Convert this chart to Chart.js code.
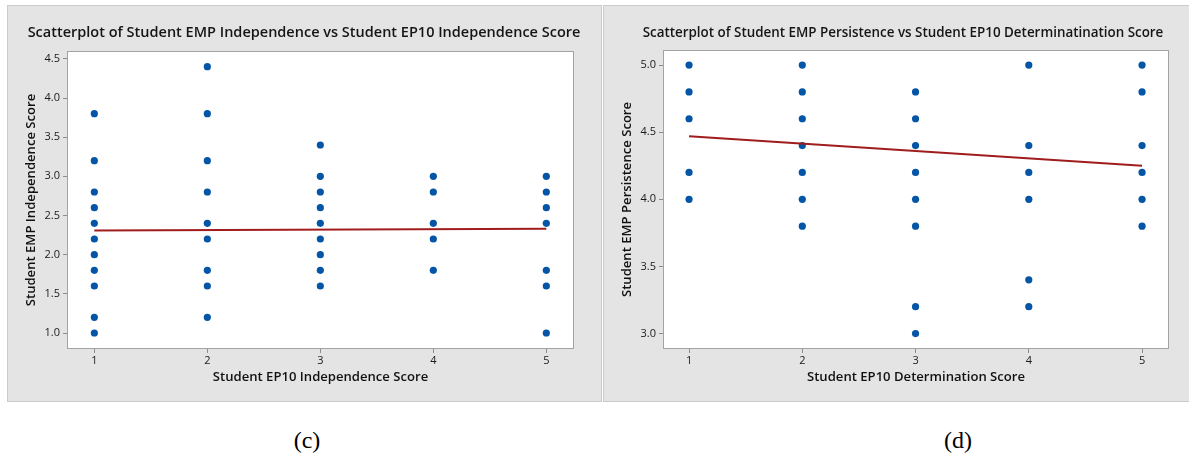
<!DOCTYPE html>
<html>
<head>
<meta charset="utf-8">
<script src="https://cdn.jsdelivr.net/npm/chart.js@4.4.1/dist/chart.umd.min.js"></script>
<style>
  html, body { margin:0; padding:0; background:#fff; width:1189px; height:461px; overflow:hidden; }
  .panel { position:absolute; box-sizing:border-box; background:#e4e4e4; border:1px solid #cbcbcb; }
  canvas { position:absolute; }
  .ttl { position:absolute; top:24px; transform:translateX(-50%); white-space:nowrap;
         font-family:"Open Sans", "Noto Sans", sans-serif; font-weight:600; line-height:16px; color:#151515; }
  .cap { position:absolute; top:425px; transform:translateX(-50%); font-family:"Liberation Serif", "DejaVu Serif", serif;
         font-size:24px; line-height:30px; color:#000; }
</style>
</head>
<body>
<div class="panel" style="left:7px;top:5px;width:595px;height:397px"></div>
<div class="panel" style="left:603px;top:5px;width:587px;height:397px"></div>
<canvas id="c1" width="594" height="396" style="left:7px;top:5px"></canvas>
<canvas id="c2" width="586" height="396" style="left:603px;top:5px"></canvas>
<div class="ttl" style="left:304px;font-size:14.5px">Scatterplot of Student EMP Independence vs Student EP10 Independence Score</div>
<div class="ttl" style="left:903px;font-size:13.4px">Scatterplot of Student EMP Persistence vs Student EP10 Determinatination Score</div>
<div class="cap" style="left:307px">(c)</div>
<div class="cap" style="left:958px">(d)</div>
<script>
// ---- data ----
const xTicks = [1, 2, 3, 4, 5];
const leftYTicks = [1.0, 1.5, 2.0, 2.5, 3.0, 3.5, 4.0, 4.5];
const rightYTicks = [3.0, 3.5, 4.0, 4.5, 5.0];

const indepX = [1,1,1,1,1,1,1,1,1,1,1, 2,2,2,2,2,2,2,2,2, 3,3,3,3,3,3,3,3,3, 4,4,4,4,4, 5,5,5,5,5,5,5];
const indepY = [3.8,3.2,2.8,2.6,2.4,2.2,2.0,1.8,1.6,1.2,1.0,
                4.4,3.8,3.2,2.8,2.4,2.2,1.8,1.6,1.2,
                3.4,3.0,2.8,2.6,2.4,2.2,2.0,1.8,1.6,
                3.0,2.8,2.4,2.2,1.8,
                3.0,2.8,2.6,2.4,1.8,1.6,1.0];
const indepFitX = [1, 5];
const indepFitY = [2.31, 2.33];

const persistX = [1,1,1,1,1, 2,2,2,2,2,2,2, 3,3,3,3,3,3,3,3, 4,4,4,4,4,4, 5,5,5,5,5,5];
const persistY = [5.0,4.8,4.6,4.2,4.0,
                  5.0,4.8,4.6,4.4,4.2,4.0,3.8,
                  4.8,4.6,4.4,4.2,4.0,3.8,3.2,3.0,
                  5.0,4.4,4.2,4.0,3.4,3.2,
                  5.0,4.8,4.4,4.2,4.0,3.8];
const persistFitX = [1, 5];
const persistFitY = [4.47, 4.25];

// ---- drawing ----
const FONT = '"Open Sans", "Noto Sans", sans-serif';
const areaPlugin = {
  id: 'area',
  beforeDraw(c) {
    const {ctx, chartArea: a} = c;
    ctx.save();
    ctx.fillStyle = '#ffffff';
    ctx.fillRect(a.left, a.top, a.right - a.left, a.bottom - a.top);
    ctx.restore();
  },
  afterDraw(c) {
    const {ctx, chartArea: a} = c;
    ctx.save();
    ctx.strokeStyle = '#a3a3a3';
    ctx.lineWidth = 1;
    ctx.strokeRect(a.left + 0.5, a.top + 0.5, a.right - a.left - 1, a.bottom - a.top - 1);
    ctx.restore();
  }
};

function pairs(xs, ys) { return xs.map((x, i) => ({x: x, y: ys[i]})); }

function makeChart(id, o) {
  return new Chart(document.getElementById(id), {
    type: 'scatter',
    data: {
      datasets: [
        { type: 'line', data: pairs(o.fitX, o.fitY), borderColor: '#a11d1d', borderWidth: 2,
          pointRadius: 0, fill: false, tension: 0 },
        { data: pairs(o.xs, o.ys), backgroundColor: '#0455a6', borderWidth: 0,
          pointRadius: 3.6, pointHoverRadius: 3.6 }
      ]
    },
    options: {
      responsive: false, animation: false, events: [],
      layout: { padding: { left: 0, right: o.padRight, top: o.padTop, bottom: 0 } },
      plugins: { legend: { display: false }, tooltip: { enabled: false } },
      scales: {
        x: {
          type: 'linear', min: o.xMin, max: o.xMax,
          afterBuildTicks: s => { s.ticks = xTicks.map(v => ({value: v})); },
          afterFit: s => { s.height = 52; },
          grid: { display: true, drawOnChartArea: false, drawTicks: true, tickLength: 4, tickColor: '#8c8c8c' },
          border: { display: false },
          ticks: { font: { family: FONT, size: 11 }, color: '#1a1a1a', padding: 1, maxRotation: 0,
                    callback: v => String(v) },
          title: { display: true, text: o.xTitle, color: '#111', font: { family: FONT, size: 13.1, weight: '600' },
                   padding: { top: 0, bottom: 15.7 } }
        },
        y: {
          type: 'linear', min: o.yMin, max: o.yMax,
          afterBuildTicks: s => { s.ticks = o.yTicks.map(v => ({value: v})); },
          afterFit: s => { s.width = 60; },
          grid: { display: true, drawOnChartArea: false, drawTicks: true, tickLength: 4, tickColor: '#8c8c8c' },
          border: { display: false },
          ticks: { font: { family: FONT, size: 11 }, color: '#1a1a1a', padding: 3,
                    callback: v => Number(v).toFixed(1) },
          title: { display: true, text: o.yTitle, color: '#111', font: { family: FONT, size: 13.1, weight: '600' },
                   padding: { top: 16, bottom: 0 } }
        }
      }
    },
    plugins: [areaPlugin]
  });
}

makeChart('c1', {
  xs: indepX, ys: indepY, fitX: indepFitX, fitY: indepFitY, yTicks: leftYTicks,
  xMin: 0.758, xMax: 5.245, yMin: 0.796, yMax: 4.60, padRight: 27, padTop: 46,
  xTitle: 'Student EP10 Independence Score', yTitle: 'Student EMP Independence Score'
});
makeChart('c2', {
  xs: persistX, ys: persistY, fitX: persistFitX, fitY: persistFitY, yTicks: rightYTicks,
  xMin: 0.77, xMax: 5.238, yMin: 2.885, yMax: 5.112, padRight: 20, padTop: 45,
  xTitle: 'Student EP10 Determination Score', yTitle: 'Student EMP Persistence Score'
});
</script>
</body>
</html>
